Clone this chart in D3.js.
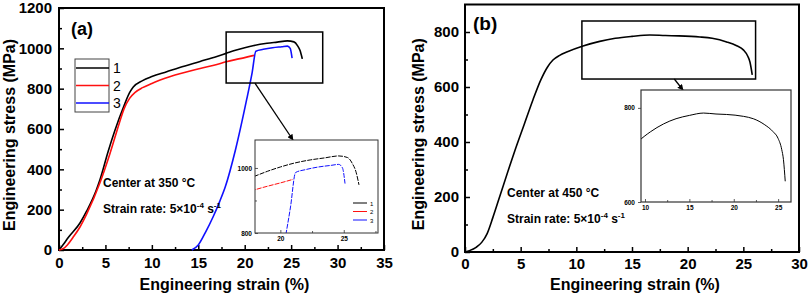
<!DOCTYPE html>
<html>
<head>
<meta charset="utf-8">
<script src="https://cdn.jsdelivr.net/npm/d3@7"></script>
<style>
  body { margin: 0; background: #fff; }
</style>
</head>
<body>
<div id="chart"></div>
<script>
// ---- data: [strain (%), stress (MPa)] ----
const curve1 = [[0,0],[0.5,30],[1,62],[2.26,134],[3,195],[4,295],[4.4,347],[5.3,490],[6,590],[7,715],[7.6,780],[8,808],[9,840],[10,860],[11.6,884],[13,905],[15.2,935],[17,960],[18,975],[19,990],[20,1003],[21,1014],[22.4,1025],[23.5,1031],[24.6,1037],[25.3,1032],[25.7,1012],[25.95,990],[26.2,948]];
const curve2 = [[0,0],[0.5,8],[0.9,25],[1.5,62],[2.26,114],[3,180],[4.4,332],[5.5,480],[6.5,630],[7,700],[7.6,752],[8.2,782],[9,805],[10,826],[12,860],[15.2,900],[17,920],[18,933],[19,944],[20,954],[21,965]];
const curve3 = [[14.3,0],[15,25],[15.8,90],[16.6,165],[17.3,240],[17.9,312],[19,496],[20.2,744],[20.8,880],[21.2,986],[22,995],[23,1003],[24,1008],[24.6,1011],[24.9,1000],[25.1,952]];
const curveB = [[0,0],[0.4,5],[1,17],[1.5,35],[2,68],[2.5,125],[3.2,212],[4,311],[4.5,371],[5.3,462],[6.1,553],[6.8,625],[7.4,672],[7.9,698],[8.5,715],[9.2,728],[10.6,749],[12.1,766],[13.5,777],[15,784],[16.6,789],[18,787],[19.2,786],[21.1,782],[22.2,777],[23.5,764],[24.4,750],[25,735],[25.4,712],[25.6,690],[25.8,644]];

const seriesNames = ["1", "2", "3"];
const seriesColors = ["#000000", "#ff1010", "#1010ff"];

const xTicksA = [0,5,10,15,20,25,30,35];
const yTicksA = [0,200,400,600,800,1000,1200];
const xTicksB = [0,5,10,15,20,25,30];
const yTicksB = [0,200,400,600,800];
const xTicksInsetA = [20,25];
const yTicksInsetA = [800,1000];
const xTicksInsetB = [10,15,20,25];
const yTicksInsetB = [600,800];

const font = "Arial, 'Liberation Sans', sans-serif";

const svg = d3.select("#chart")
    .append("svg")
    .attr("width", 809)
    .attr("height", 298)
    .style("font-family", font);

svg.append("defs").append("marker")
    .attr("id", "arrow")
    .attr("viewBox", "0 0 10 10")
    .attr("refX", 9).attr("refY", 5)
    .attr("markerWidth", 6).attr("markerHeight", 6)
    .attr("markerUnits", "userSpaceOnUse")
    .attr("orient", "auto")
    .append("path").attr("d", "M0,0L10,5L0,10Z").attr("fill", "black");

// draws ticks (major + minor) and a frame around the plot area
function drawAxes(g, x, y, o) {
    const [xa, xb] = x.range(), [ya, yb] = y.range();
    const dir = o.inward ? -1 : 1;
    const xAx = g.append("g").attr("transform", "translate(0," + ya + ")")
        .call(d3.axisBottom(x).tickValues(o.xt).tickSize(-o.major).tickPadding(o.pad).tickFormat(d3.format("d")));
    const xMin = g.append("g").attr("transform", "translate(0," + ya + ")")
        .call(d3.axisBottom(x).tickValues(o.xm).tickSize(-o.minor).tickFormat(""));
    const yAx = g.append("g").attr("transform", "translate(" + xa + ",0)")
        .call(d3.axisLeft(y).tickValues(o.yt).tickSize(dir * o.major).tickPadding(o.pad).tickFormat(d3.format("d")));
    const yMin = g.append("g").attr("transform", "translate(" + xa + ",0)")
        .call(d3.axisLeft(y).tickValues(o.ym).tickSize(dir * o.minor).tickFormat(""));
    [xAx, xMin, yAx, yMin].forEach(a => {
        a.select(".domain").remove();
        a.selectAll("line").attr("stroke", o.color).attr("stroke-width", o.tw);
        a.selectAll("text")
            .style("font-family", font)
            .style("font-size", o.fs + "px")
            .style("font-weight", o.fw)
            .attr("fill", "black");
    });
    g.append("rect")
        .attr("x", xa).attr("y", yb)
        .attr("width", xb - xa).attr("height", ya - yb)
        .attr("fill", "none").attr("stroke", o.color).attr("stroke-width", o.sw);
}

function lineGen(x, y) {
    return d3.line().x(d => x(d[0])).y(d => y(d[1])).curve(d3.curveMonotoneX);
}

function clip(id, x, y) {
    svg.select("defs").append("clipPath").attr("id", id)
        .append("rect")
        .attr("x", x.range()[0]).attr("y", y.range()[1])
        .attr("width", x.range()[1] - x.range()[0])
        .attr("height", y.range()[0] - y.range()[1]);
}

function axisTitles(x, y, ytx) {
    const [xa, xb] = x.range(), [ya, yb] = y.range();
    svg.append("text")
        .attr("x", (xa + xb) / 2 + 3).attr("y", 290)
        .attr("text-anchor", "middle")
        .style("font-size", "16px").style("font-weight", "bold")
        .text("Engineering strain (%)");
    svg.append("text")
        .attr("transform", "translate(" + ytx + "," + ((ya + yb) / 2 + 6) + ") rotate(-90)")
        .attr("text-anchor", "middle")
        .style("font-size", "16px").style("font-weight", "bold")
        .text("Engineering stress (MPa)");
}

function note(tx, ty, temp) {
    svg.append("text").attr("x", tx).attr("y", ty)
        .style("font-size", "12px").style("font-weight", "bold")
        .text("Center at " + temp + " \u00b0C");
    const t2 = svg.append("text").attr("x", tx).attr("y", ty + 26)
        .style("font-size", "12px").style("font-weight", "bold");
    t2.append("tspan").text("Strain rate: 5\u00d710");
    t2.append("tspan").attr("dy", -5).style("font-size", "8px").text("-4");
    t2.append("tspan").attr("dy", 5).text(" s");
    t2.append("tspan").attr("dy", -5).style("font-size", "8px").text("-1");
}

// ================= panel (a) =================
const xA = d3.scaleLinear().domain([0, 35]).range([59, 384]);
const yA = d3.scaleLinear().domain([0, 1200]).range([250, 8]);
const gA = svg.append("g");

drawAxes(gA, xA, yA, {
    xt: xTicksA, xm: xTicksA.slice(0, -1).map(v => v + 2.5),
    yt: yTicksA, ym: yTicksA.slice(0, -1).map(v => v + 100),
    major: 5, minor: 3, pad: 7, fs: 15, fw: "bold", tw: 1.5, sw: 2, color: "black", inward: true
});
axisTitles(xA, yA, 15);

[curve1, curve2, curve3].forEach((c, i) => {
    gA.append("path").datum(c)
        .attr("fill", "none").attr("stroke", seriesColors[i]).attr("stroke-width", 1.6)
        .attr("d", lineGen(xA, yA));
});

// legend
const legA = gA.append("g");
legA.append("rect").attr("x", 75).attr("y", 59).attr("width", 34).attr("height", 53)
    .attr("fill", "white").attr("stroke", "#444").attr("stroke-width", 1);
seriesNames.forEach((s, i) => {
    legA.append("line").attr("x1", 76).attr("x2", 109)
        .attr("y1", 68 + i * 17.5).attr("y2", 68 + i * 17.5)
        .attr("stroke", seriesColors[i]).attr("stroke-width", 1.6);
    legA.append("text").attr("x", 113).attr("y", 73 + i * 17.5)
        .style("font-size", "14px").text(s);
});

svg.append("text").attr("x", 71).attr("y", 35)
    .style("font-size", "18px").style("font-weight", "bold").text("(a)");
note(103, 187, 350);

// zoom box and arrow
gA.append("rect")
    .attr("x", xA(18)).attr("y", yA(1081))
    .attr("width", xA(28.4) - xA(18)).attr("height", yA(828) - yA(1081))
    .attr("fill", "none").attr("stroke", "black").attr("stroke-width", 1.5);
gA.append("line")
    .attr("x1", xA(21.1)).attr("y1", yA(828)).attr("x2", 293).attr("y2", 140)
    .attr("stroke", "black").attr("stroke-width", 1.3).attr("marker-end", "url(#arrow)");

// inset (a)
const xIA = d3.scaleLinear().domain([18, 27.7]).range([255, 378]);
const yIA = d3.scaleLinear().domain([800, 1086]).range([233, 140]);
const gIA = svg.append("g");
gIA.append("rect").attr("x", 255).attr("y", 140).attr("width", 123).attr("height", 93).attr("fill", "white");
clip("clipIA", xIA, yIA);
[curve1, curve2, curve3].forEach((c, i) => {
    gIA.append("path").datum(c)
        .attr("clip-path", "url(#clipIA)")
        .attr("fill", "none").attr("stroke", seriesColors[i]).attr("stroke-width", 1)
        .attr("stroke-dasharray", "5,1.2")
        .attr("d", lineGen(xIA, yIA));
});
drawAxes(gIA, xIA, yIA, {
    xt: xTicksInsetA, xm: [22.5, 27.5],
    yt: yTicksInsetA, ym: [900],
    major: 3, minor: 2, pad: 3, fs: 6.5, fw: "bold", tw: 0.8, sw: 1, color: "#333", inward: true
});
seriesNames.forEach((s, i) => {
    gIA.append("line").attr("x1", 353).attr("x2", 367)
        .attr("y1", 203 + i * 8.5).attr("y2", 203 + i * 8.5)
        .attr("stroke", seriesColors[i]).attr("stroke-width", 1);
    gIA.append("text").attr("x", 370).attr("y", 205.5 + i * 8.5)
        .style("font-size", "6px").text(s);
});

// ================= panel (b) =================
const xB = d3.scaleLinear().domain([0, 30]).range([465, 799]);
const yB = d3.scaleLinear().domain([0, 900]).range([252, 4.5]);
const gB = svg.append("g");

drawAxes(gB, xB, yB, {
    xt: xTicksB, xm: xTicksB.slice(0, -1).map(v => v + 2.5),
    yt: yTicksB, ym: [100, 300, 500, 700],
    major: 5, minor: 3, pad: 6, fs: 15, fw: "bold", tw: 1.5, sw: 2, color: "black", inward: true
});
axisTitles(xB, yB, 424);

gB.append("path").datum(curveB)
    .attr("fill", "none").attr("stroke", "black").attr("stroke-width", 1.6)
    .attr("d", lineGen(xB, yB));

svg.append("text").attr("x", 473).attr("y", 30)
    .style("font-size", "19px").style("font-weight", "bold").text("(b)");
note(507, 197, 450);

gB.append("rect")
    .attr("x", xB(10.5)).attr("y", yB(840))
    .attr("width", xB(26.1) - xB(10.5)).attr("height", yB(629) - yB(840))
    .attr("fill", "none").attr("stroke", "black").attr("stroke-width", 1.5);
gB.append("line")
    .attr("x1", xB(18.8)).attr("y1", yB(629)).attr("x2", 683).attr("y2", 90)
    .attr("stroke", "black").attr("stroke-width", 1.3).attr("marker-end", "url(#arrow)");

// inset (b)
const xIB = d3.scaleLinear().domain([9.55, 26.45]).range([641, 791]);
const yIB = d3.scaleLinear().domain([600, 838]).range([202, 90]);
const gIB = svg.append("g");
gIB.append("rect").attr("x", 641).attr("y", 90).attr("width", 150).attr("height", 112).attr("fill", "white");
clip("clipIB", xIB, yIB);
gIB.append("path").datum(curveB)
    .attr("clip-path", "url(#clipIB)")
    .attr("fill", "none").attr("stroke", "black").attr("stroke-width", 1)
    .attr("d", lineGen(xIB, yIB));
drawAxes(gIB, xIB, yIB, {
    xt: xTicksInsetB, xm: [12.5, 17.5, 22.5],
    yt: yTicksInsetB, ym: [],
    major: 3, minor: 2, pad: 3, fs: 6.5, fw: "bold", tw: 0.8, sw: 1.2, color: "#333", inward: false
});
</script>
</body>
</html>
